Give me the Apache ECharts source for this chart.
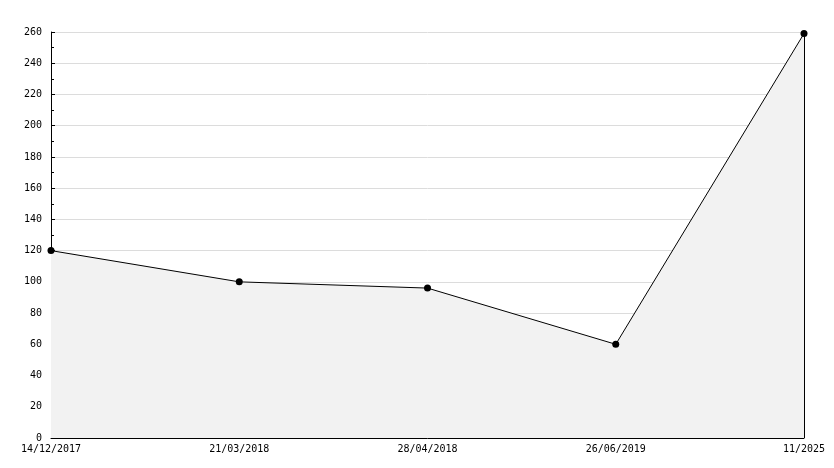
<!DOCTYPE html>
<html>
<head>
<meta charset="utf-8">
<script src="https://cdn.jsdelivr.net/npm/echarts@6/dist/echarts.min.js"></script>
<style>
html, body { margin: 0; padding: 0; background: #fff; }
#chart { width: 834px; height: 468px; }
</style>
</head>
<body>
<div id="chart"></div>
<script>
// dates along the x axis and the value at each
const dates = ['14/12/2017', '21/03/2018', '28/04/2018', '26/06/2019', '11/2025'];
const values = [120, 100, 96, 60, 259];
const yMin = 0;
const yMax = 260;
const yStep = 20;

const lastDate = dates[dates.length - 1];
const lastValue = values[values.length - 1];

var myChart = echarts.init(document.getElementById('chart'));

myChart.setOption({
    animation: false,
    grid: {
        left: 51,
        right: 30,
        top: 32,
        bottom: 30
    },
    xAxis: {
        type: 'category',
        data: dates,
        boundaryGap: false,
        axisLine: { lineStyle: { color: '#000', width: 1 } },
        axisTick: { show: false },
        axisLabel: {
            color: '#000',
            fontFamily: 'DejaVu Sans Mono',
            fontSize: 10,
            margin: 6,
            showMinLabel: true,
            showMaxLabel: true
        },
        splitLine: { show: false }
    },
    yAxis: {
        type: 'value',
        min: yMin,
        max: yMax,
        interval: yStep,
        axisLine: { show: true, lineStyle: { color: '#000', width: 1 } },
        axisTick: { show: true, inside: true, length: 4, lineStyle: { color: '#000' } },
        minorTick: { show: true, splitNumber: 2, length: 3, lineStyle: { color: '#000' } },
        axisLabel: {
            color: '#000',
            fontFamily: 'DejaVu Sans Mono',
            fontSize: 10,
            margin: 9
        },
        splitLine: { show: true, lineStyle: { color: '#dcdcdc', width: 1 } }
    },
    series: [
        {
            type: 'line',
            data: values,
            symbol: 'circle',
            symbolSize: 7,
            itemStyle: { color: '#000' },
            lineStyle: { color: '#000', width: 1 },
            areaStyle: { color: '#f2f2f2', opacity: 1 },
            markLine: {
                silent: true,
                symbol: 'none',
                label: { show: false },
                lineStyle: { color: '#000', width: 1, type: 'solid' },
                data: [[
                    { coord: [lastDate, yMin] },
                    { coord: [lastDate, lastValue] }
                ]]
            }
        }
    ]
});
</script>
</body>
</html>
